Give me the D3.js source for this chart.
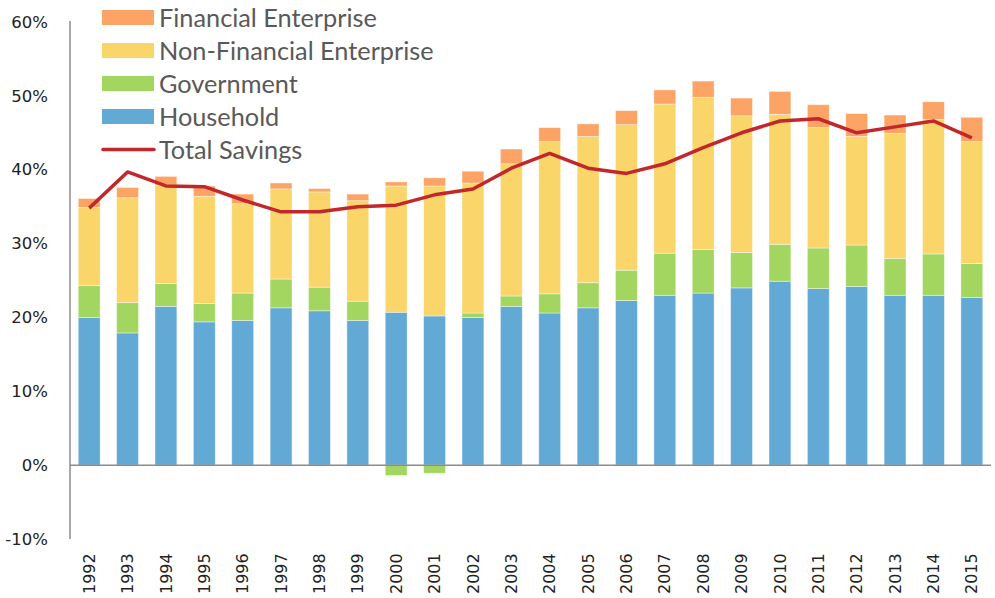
<!DOCTYPE html>
<html>
  <head>
    <meta charset="utf-8" />
    <script src="https://cdn.jsdelivr.net/npm/d3@7"></script>
    <style>
      body { margin: 0; background: #fff; }
      #chart { width: 995px; height: 598px; }
      .tick-label { font-family: "DejaVu Sans", sans-serif; fill: #222; }
      .legend text { font-family: Lato, "Noto Sans", sans-serif; fill: #595959; }
    </style>
  </head>
  <body>
    <div id="chart"></div>

    <script type="text/javascript">
var years = ["1992","1993","1994","1995","1996","1997","1998","1999","2000","2001","2002","2003",
             "2004","2005","2006","2007","2008","2009","2010","2011","2012","2013","2014","2015"];

// shares of GDP, %
var household   = [20.0, 17.9, 21.5, 19.4, 19.6, 21.3, 20.9, 19.6, 20.7, 20.2, 20.0, 21.5,
                   20.6, 21.3, 22.3, 23.0, 23.3, 24.0, 24.9, 23.9, 24.2, 23.0, 23.0, 22.7];
var government  = [4.3, 4.1, 3.1, 2.5, 3.7, 3.9, 3.2, 2.6, -1.4, -1.1, 0.6, 1.4,
                   2.6, 3.4, 4.1, 5.7, 5.9, 4.8, 5.0, 5.5, 5.6, 5.0, 5.6, 4.6];
var nonFinancial = [10.6, 14.2, 13.3, 14.5, 12.1, 12.2, 12.9, 13.6, 17.1, 17.6, 17.6, 17.9,
                    20.6, 19.8, 19.7, 20.2, 20.6, 18.5, 17.6, 16.3, 14.7, 16.9, 18.2, 16.5];
var financial   = [1.2, 1.4, 1.2, 1.4, 1.3, 0.8, 0.45, 0.9, 0.55, 1.1, 1.6, 2.0,
                   1.9, 1.7, 1.9, 1.9, 2.2, 2.4, 3.1, 3.1, 3.1, 2.5, 2.4, 3.3];
var totalSavings = [34.8, 39.7, 37.8, 37.7, 35.9, 34.3, 34.3, 35.0, 35.2, 36.6, 37.4, 40.2,
                    42.2, 40.2, 39.5, 40.8, 43.0, 45.0, 46.6, 46.9, 45.0, 45.8, 46.6, 44.3];
var yTicks = [-10, 0, 10, 20, 30, 40, 50, 60];

var width = 995, height = 598;
var svg = d3.select("#chart").append("svg")
  .attr("width", width)
  .attr("height", height);

var x = d3.scaleBand().domain(years).range([70, 991]).paddingInner(0.43).paddingOuter(0.215);
var y = d3.scaleLinear().domain([-10, 60]).range([539, 22]);

var keys = ["household", "government", "nonFinancial", "financial"];
var colors = {
  household: "#63a9d6",
  government: "#a3d661",
  nonFinancial: "#f9d56a",
  financial: "#fca465"
};

var rows = years.map(function(yr, i) {
  return {year: yr, household: household[i], government: government[i],
          nonFinancial: nonFinancial[i], financial: financial[i]};
});

var series = d3.stack().keys(keys).offset(d3.stackOffsetDiverging)(rows);

svg.append("g").selectAll("g")
  .data(series)
  .enter().append("g")
    .attr("fill", function(d) { return colors[d.key]; })
  .selectAll("rect")
  .data(function(d) { return d; })
  .enter().append("rect")
    .attr("x", function(d) { return x(d.data.year); })
    .attr("width", x.bandwidth())
    .attr("y", function(d) { return y(Math.max(d[0], d[1])); })
    .attr("height", function(d) { return Math.abs(y(d[0]) - y(d[1])); })
    .attr("stroke", "#fff")
    .attr("stroke-opacity", 0.5)
    .attr("stroke-width", 0.8);

// axes
svg.append("line")
  .attr("x1", 70).attr("x2", 70)
  .attr("y1", y(60) - 1).attr("y2", y(-10))
  .attr("stroke", "#8c8c8c").attr("stroke-width", 1.5);
svg.append("line")
  .attr("x1", 70).attr("x2", 991)
  .attr("y1", y(0)).attr("y2", y(0))
  .attr("stroke", "#8c8c8c").attr("stroke-width", 1.5);

var yAxis = d3.axisLeft(y).tickValues(yTicks).tickSize(0).tickPadding(0)
  .tickFormat(function(d) { return d + "%"; });
var gy = svg.append("g").attr("transform", "translate(48,0)").call(yAxis);
gy.select(".domain").remove();
gy.selectAll("text").attr("class", "tick-label").attr("font-size", 16.5).attr("fill", "#222");

// year labels, rotated
svg.append("g").selectAll("text")
  .data(years)
  .enter().append("text")
    .attr("class", "tick-label")
    .attr("font-size", 16)
    .attr("text-anchor", "start")
    .attr("dy", "0.35em")
    .attr("transform", function(d) {
      return "translate(" + (x(d) + x.bandwidth() / 2) + ",594) rotate(-90)";
    })
    .text(function(d) { return d; });

// total savings line
var line = d3.line()
  .x(function(d, i) { return x(years[i]) + x.bandwidth() / 2; })
  .y(function(d) { return y(d); });

svg.append("path")
  .datum(totalSavings)
  .attr("d", line)
  .attr("fill", "none")
  .attr("stroke", "#c1272b")
  .attr("stroke-width", 3.5)
  .attr("stroke-linejoin", "round");

// legend
var legendItems = [
  {name: "Financial Enterprise", key: "financial"},
  {name: "Non-Financial Enterprise", key: "nonFinancial"},
  {name: "Government", key: "government"},
  {name: "Household", key: "household"},
  {name: "Total Savings", key: "line"}
];

var legend = svg.append("g").attr("class", "legend");
var li = legend.selectAll("g")
  .data(legendItems)
  .enter().append("g")
    .attr("transform", function(d, i) { return "translate(102," + (17.5 + i * 33) + ")"; });

li.filter(function(d) { return d.key !== "line"; })
  .append("rect")
    .attr("x", 0).attr("y", -7.5)
    .attr("width", 52).attr("height", 15)
    .attr("fill", function(d) { return colors[d.key]; });

li.filter(function(d) { return d.key === "line"; })
  .append("line")
    .attr("x1", 1).attr("x2", 52)
    .attr("stroke", "#c1272b").attr("stroke-width", 3.5)
    .attr("stroke-linecap", "round");

li.append("text")
  .attr("x", 57)
  .attr("dy", "0.36em")
  .attr("font-size", 25.3)
  .text(function(d) { return d.name; });
    </script>
  </body>
</html>
